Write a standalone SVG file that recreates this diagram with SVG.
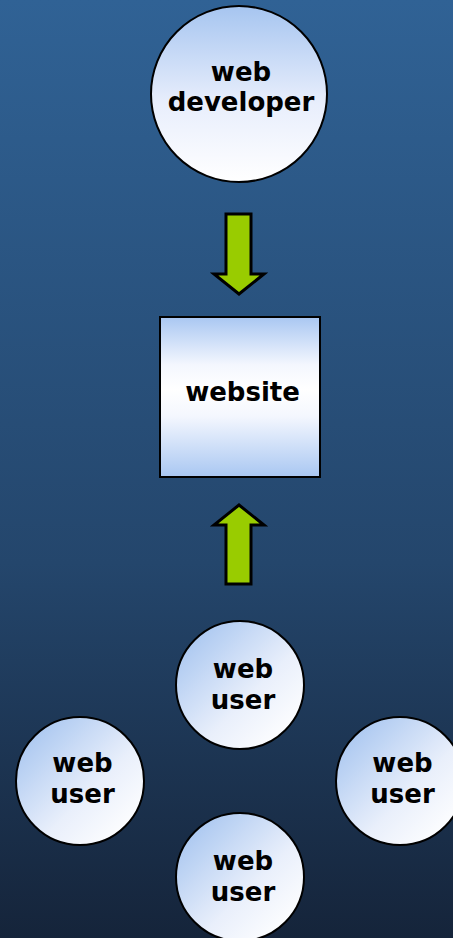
<svg xmlns="http://www.w3.org/2000/svg" width="453" height="938" viewBox="0 0 453 938">
<defs>
<linearGradient id="bg" x1="0" y1="0" x2="0" y2="1">
<stop offset="0" stop-color="#306295"/>
<stop offset="0.6" stop-color="#24466c"/>
<stop offset="1" stop-color="#15243a"/>
</linearGradient>
<linearGradient id="gTop" x1="0" y1="0" x2="0" y2="1">
<stop offset="0" stop-color="#a6c5f0"/>
<stop offset="0.55" stop-color="#e8eefc"/>
<stop offset="1" stop-color="#ffffff"/>
</linearGradient>
<linearGradient id="gRect" x1="0" y1="0" x2="0" y2="1">
<stop offset="0" stop-color="#a9c7f2"/>
<stop offset="0.3" stop-color="#f4f7fe"/>
<stop offset="0.45" stop-color="#ffffff"/>
<stop offset="0.62" stop-color="#f4f7fe"/>
<stop offset="1" stop-color="#a9c7f2"/>
</linearGradient>
<linearGradient id="gUser" x1="0.1" y1="0.1" x2="0.9" y2="0.9">
<stop offset="0" stop-color="#a8c6f0"/>
<stop offset="0.6" stop-color="#e9effb"/>
<stop offset="1" stop-color="#ffffff"/>
</linearGradient>
</defs>
<style>
.lbl{font-family:"DejaVu Sans",Verdana,sans-serif;font-weight:bold;font-size:26px;fill:#000;text-anchor:middle}
.node{stroke:#000;stroke-width:2}
.arrow{fill:#99cc00;stroke:#000;stroke-width:3;stroke-linejoin:miter}
</style>
<rect x="0" y="0" width="453" height="938" fill="url(#bg)"/>
<g id="connectors">
<polygon class="arrow" points="226,214 251,214 251,274 264,274 239,294 214,274 226,274"/>
<polygon class="arrow" points="226,584 251,584 251,525 264,525 239,505 214,525 226,525"/>
</g>
<g id="web-developer">
<circle class="node" cx="239" cy="94" r="88" fill="url(#gTop)"/>
<text class="lbl" x="241" y="81">web</text>
<text class="lbl" x="241" y="111">developer</text>
</g>
<g id="website">
<rect class="node" x="160" y="317" width="160" height="160" fill="url(#gRect)"/>
<text class="lbl" x="242.5" y="401">website</text>
</g>
<g id="user-top">
<circle class="node" cx="240" cy="685" r="64" fill="url(#gUser)"/>
<text class="lbl" x="243" y="678">web</text>
<text class="lbl" x="243" y="709">user</text>
</g>
<g id="user-left">
<circle class="node" cx="80" cy="781" r="64" fill="url(#gUser)"/>
<text class="lbl" x="82.5" y="772">web</text>
<text class="lbl" x="82.5" y="803">user</text>
</g>
<g id="user-right">
<circle class="node" cx="400" cy="781" r="64" fill="url(#gUser)"/>
<text class="lbl" x="402.5" y="772">web</text>
<text class="lbl" x="402.5" y="803">user</text>
</g>
<g id="user-bottom">
<circle class="node" cx="240" cy="877" r="64" fill="url(#gUser)"/>
<text class="lbl" x="243" y="870">web</text>
<text class="lbl" x="243" y="901">user</text>
</g>
</svg>
